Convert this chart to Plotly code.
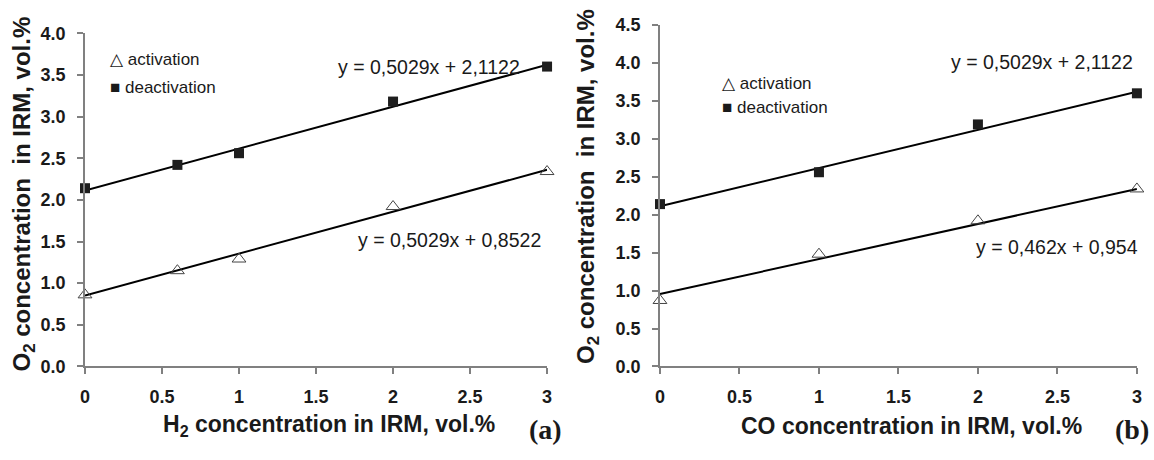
import plotly.graph_objects as go

# ---------------- data ----------------
h2_x = [0, 0.6, 1, 2, 3]
h2_activation = [0.86, 1.15, 1.29, 1.92, 2.34]
h2_deactivation = [2.14, 2.42, 2.56, 3.18, 3.60]

co_x = [0, 1, 2, 3]
co_activation = [0.87, 1.48, 1.92, 2.34]
co_deactivation = [2.14, 2.56, 3.19, 3.60]

# trend-line coefficients (slope, intercept) as printed on the chart
h2_act_fit = (0.5029, 0.8522)
h2_deact_fit = (0.5029, 2.1122)
co_act_fit = (0.462, 0.954)
co_deact_fit = (0.5029, 2.1122)

fit_x = [0, 3]

x_ticks = [0, 0.5, 1, 1.5, 2, 2.5, 3]
x_ticklabels = ["0", "0.5", "1", "1.5", "2", "2.5", "3"]
y_ticks_a = [0, 0.5, 1, 1.5, 2, 2.5, 3, 3.5, 4]
y_ticks_b = [0, 0.5, 1, 1.5, 2, 2.5, 3, 3.5, 4, 4.5]

W, H = 1154, 460
SANS = "Liberation Sans, Arial, sans-serif"
SERIF = "Liberation Serif, Times New Roman, serif"
AXIS_GREY = "#808080"


def px(x):
    return x / W


def py(y):
    return 1 - y / H


fig = go.Figure()


def add_panel(xs, act, deact, act_fit, deact_fit, xa, ya):
    for fit in (deact_fit, act_fit):
        fig.add_trace(go.Scatter(
            x=fit_x, y=[fit[0] * v + fit[1] for v in fit_x],
            mode="lines", line=dict(color="black", width=2),
            xaxis=xa, yaxis=ya, showlegend=False, hoverinfo="skip",
            cliponaxis=False))
    fig.add_trace(go.Scatter(
        x=xs, y=deact, mode="markers",
        marker=dict(symbol="square", size=10, color="#1e1e1e"),
        xaxis=xa, yaxis=ya, showlegend=False, cliponaxis=False))
    fig.add_trace(go.Scatter(
        x=xs, y=act, mode="markers",
        marker=dict(symbol="triangle-up-open", size=12, color="#444444",
                    line=dict(width=1)),
        xaxis=xa, yaxis=ya, showlegend=False, cliponaxis=False))


add_panel(h2_x, h2_activation, h2_deactivation, h2_act_fit, h2_deact_fit, "x", "y")
add_panel(co_x, co_activation, co_deactivation, co_act_fit, co_deact_fit, "x2", "y2")

axis_common = dict(
    showgrid=False, zeroline=False, showline=True, linecolor=AXIS_GREY,
    linewidth=1.5, ticks="outside", tickcolor=AXIS_GREY, ticklen=6,
    tickwidth=1.5,
    tickfont=dict(family=SANS, size=18, color="#1a1a1a", weight="bold"),
)

fig.update_layout(
    width=W, height=H, margin=dict(l=0, r=0, t=0, b=0),
    paper_bgcolor="white", plot_bgcolor="white",
    xaxis=dict(domain=[px(80.7), px(546.8)], range=[0, 3], tickvals=x_ticks,
               ticktext=x_ticklabels, anchor="y", ticklabelstandoff=7,
               **axis_common),
    yaxis=dict(domain=[py(372.7), py(24.3)], range=[0, 4], tickvals=y_ticks_a,
               tickformat=".1f", anchor="x", ticklabelstandoff=8,
               **axis_common),
    xaxis2=dict(domain=[px(660.7), px(1141.8)], range=[0, 3], tickvals=x_ticks,
                ticktext=x_ticklabels, anchor="y2", ticklabelstandoff=7,
                **axis_common),
    yaxis2=dict(domain=[py(372.7), py(15.7)], range=[0, 4.5], tickvals=y_ticks_b,
                tickformat=".1f", anchor="x2", ticklabelstandoff=8,
                **axis_common),
)


def ann(text, x, y, size, xanchor="center", yanchor="middle", bold=False,
        family=SANS, angle=0):
    if bold:
        text = "<b>" + text + "</b>"
    fig.add_annotation(
        text=text, x=px(x), y=py(y), xref="paper", yref="paper",
        xanchor=xanchor, yanchor=yanchor, showarrow=False, textangle=angle,
        font=dict(family=family, size=size, color="#1a1a1a"))


# legends
ann("△ activation", 104, 52, 17, xanchor="left")
ann("■ deactivation", 104, 81, 17, xanchor="left")
ann("△ activation", 721, 77, 17, xanchor="left")
ann("■ deactivation", 721, 102, 17, xanchor="left")

# equations
ann("y = 0,5029x + 2,1122", 428, 60, 19.5)
ann("y = 0,5029x + 0,8522", 448, 240, 19.5)
ann("y = 0,5029x + 2,1122", 1046, 54, 19.5)
ann("y = 0,462x + 0,954", 1061, 248, 19.5)

# axis titles
ann("H<sub>2</sub> concentration in IRM, vol.%", 327, 434, 23, bold=True)
ann("CO concentration in IRM, vol.%", 914, 435, 23, bold=True)
ann("O<sub>2</sub> concentration&nbsp; in IRM, vol.%", 19, 192, 24, bold=True, angle=-90)
ann("O<sub>2</sub> concentration&nbsp; in IRM, vol.%", 587, 184, 24, bold=True, angle=-90)

# panel labels
ann("(a)", 545, 439, 28, bold=True, family=SERIF)
ann("(b)", 1118, 439, 28, bold=True, family=SERIF, xanchor="left")

fig.write_html("out.html")
